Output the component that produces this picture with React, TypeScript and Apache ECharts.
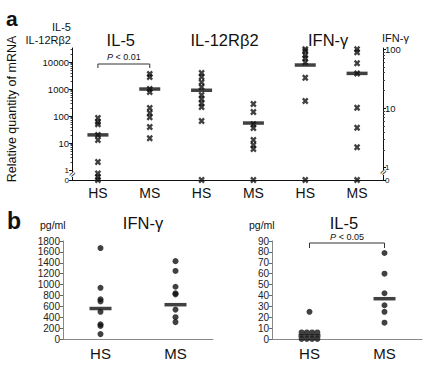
import React, { useEffect, useRef } from "react";
import * as echarts from "echarts";

// ---------- data: panel a (relative quantity of mRNA) ----------
const topCategories = ["HS", "MS", "HS", "MS", "HS", "MS"];
const topTitles = ["IL-5", "IL-12Rβ2", "IFN-γ"];
const il5HS = [85, 60, 50, 20, 13, 2, 0.75, 0.55, 0];
const il5MS = [3600, 2800, 1000, 770, 200, 130, 90, 39, 15];
const il12HS = [3900, 2800, 1800, 1200, 600, 430, 300, 215, 65, 0];
const il12MS = [280, 140, 50, 36, 13, 8.5, 6, 0];
const ifnHS = [100, 93, 79, 70, 60, 33, 13.3, 0];
const ifnMS = [100, 89, 58, 39, 10.2, 4.7, 2.2, 0];
const topMedians = [20, 1000, 900, 55, 54, 39];
const leftTickValues = [0, 1, 10, 100, 1000, 10000];
const rightTickValues = [0, 1, 10, 100];

// ---------- data: panel b (pg/ml) ----------
const bottomCategories = ["HS", "MS"];
const ifnProtHS = [1670, 940, 730, 690, 500, 270, 240, 90];
const ifnProtMS = [1430, 1250, 960, 840, 820, 540, 400, 310];
const ifnProtMedians = [560, 630];
const il5ProtHS = [25, 6, 6, 6, 6, 0, 0, 0, 0];
const il5ProtMS = [79, 60, 42, 31, 25, 15];
const il5ProtMedians = [3, 37];

const FONT = "Liberation Sans, Arial, Helvetica, sans-serif";

// broken log scales: zero is drawn below 1 after an axis break
const LEFT_ZERO = -0.37;
const LEFT_MAX = 4.52;
const RIGHT_ZERO = -0.21;
const RIGHT_MAX = 2.02;
const leftPos = (v: number) => (v <= 0 ? LEFT_ZERO : Math.max(LEFT_ZERO, Math.log10(v)));
const rightPos = (v: number) => (v <= 0 ? RIGHT_ZERO : Math.max(RIGHT_ZERO, Math.log10(v)));

const minorPositions = (max: number) => {
  const out: number[] = [];
  for (let d = 0; d < 5; d++) {
    for (let k = 2; k <= 9; k++) {
      const p = Math.log10(k * Math.pow(10, d));
      if (p <= max) out.push(p);
    }
  }
  return out;
};

const CROSS =
  "path://M0,2.5 L2.5,0 L5,2.5 L7.5,0 L10,2.5 L7.5,5 L10,7.5 L7.5,10 L5,7.5 L2.5,10 L0,7.5 L2.5,5 Z";

// horizontal spread for identical values (beeswarm style)
const spread = (values: number[], spacing: number) => {
  const counts: Record<string, number> = {};
  values.forEach((v) => (counts[v] = (counts[v] || 0) + 1));
  const seen: Record<string, number> = {};
  return values.map((v) => {
    const n = counts[v];
    const k = seen[v] || 0;
    seen[v] = k + 1;
    return (k - (n - 1) / 2) * spacing;
  });
};

const labelFor = (positions: number[], labels: number[]) => (v: number) => {
  const i = positions.findIndex((p) => Math.abs(p - v) < 1e-6);
  if (i < 0) return "";
  const t = String(labels[i]);
  return labels[i] <= 1 ? `{s|${t}}` : t;
};

export default function App() {
  const ref = useRef<HTMLDivElement>(null);

  useEffect(() => {
    const chart = echarts.init(ref.current!, null, { renderer: "svg" });

    const leftMajor = leftTickValues.map(leftPos);
    const rightMajor = rightTickValues.map(rightPos);

    const crossSeries = (values: number[], cat: number, yAxisIndex: number, pos: (v: number) => number) => ({
      type: "scatter",
      xAxisIndex: 0,
      yAxisIndex,
      symbol: CROSS,
      symbolSize: [6.5, 7],
      itemStyle: { color: "#111" },
      data: values.map((v) => [cat, pos(v)]),
      z: 3,
    });

    const dotSeries = (values: number[], cat: number, xAxisIndex: number, yAxisIndex: number, spacing: number) => {
      const off = spread(values, spacing);
      return {
        type: "scatter",
        xAxisIndex,
        yAxisIndex,
        symbol: "circle",
        symbolSize: 6,
        itemStyle: { color: "#111" },
        data: values.map((v, i) => [cat + off[i], v]),
        z: 3,
      };
    };

    const barSeries = (data: number[][], xAxisIndex: number, yAxisIndex: number, size: number[]) => ({
      type: "scatter",
      xAxisIndex,
      yAxisIndex,
      symbol: "rect",
      symbolSize: size,
      itemStyle: { color: "#111" },
      data,
      z: 4,
    });

    const tickLabelStyle = {
      fontFamily: FONT,
      fontSize: 9.5,
      color: "#111",
      rich: { s: { fontFamily: FONT, fontSize: 8, color: "#111" } },
    };

    const option: any = {
      animation: false,
      backgroundColor: "#fff",
      textStyle: { fontFamily: FONT },
      grid: [
        { left: 72, top: 48, width: 311, height: 132 },
        { left: 63, top: 241, width: 150, height: 98 },
        { left: 272, top: 241, width: 150, height: 98 },
      ],
      xAxis: [
        {
          gridIndex: 0,
          type: "category",
          data: topCategories,
          boundaryGap: true,
          axisLine: { onZero: false, lineStyle: { color: "#111", width: 1 } },
          axisTick: { show: false },
          axisLabel: { fontFamily: FONT, fontSize: 14, color: "#111", margin: 6 },
        },
        {
          gridIndex: 1,
          type: "category",
          data: bottomCategories,
          boundaryGap: true,
          axisLine: { onZero: false, lineStyle: { color: "#888", width: 1 } },
          axisTick: { show: false },
          axisLabel: { fontFamily: FONT, fontSize: 15, color: "#111", margin: 7 },
        },
        { gridIndex: 1, type: "value", min: -0.5, max: 1.5, show: false, axisLine: { onZero: false } },
        {
          gridIndex: 2,
          type: "category",
          data: bottomCategories,
          boundaryGap: true,
          axisLine: { onZero: false, lineStyle: { color: "#888", width: 1 } },
          axisTick: { show: false },
          axisLabel: { fontFamily: FONT, fontSize: 15, color: "#111", margin: 7 },
        },
        { gridIndex: 2, type: "value", min: -0.5, max: 1.5, show: false, axisLine: { onZero: false } },
      ],
      yAxis: [
        {
          gridIndex: 0,
          type: "value",
          position: "left",
          min: LEFT_ZERO,
          max: LEFT_MAX,
          splitLine: { show: false },
          axisLine: { show: true, onZero: false, lineStyle: { color: "#111", width: 1 } },
          axisTick: { show: true, length: 3, customValues: leftMajor, lineStyle: { color: "#111" } },
          axisLabel: { ...tickLabelStyle, margin: 3, customValues: leftMajor, formatter: labelFor(leftMajor, leftTickValues) },
        },
        {
          gridIndex: 0,
          type: "value",
          position: "left",
          min: LEFT_ZERO,
          max: LEFT_MAX,
          splitLine: { show: false },
          axisLine: { show: false, onZero: false },
          axisTick: { show: true, length: 1.5, customValues: minorPositions(LEFT_MAX), lineStyle: { color: "#444" } },
          axisLabel: { show: false },
        },
        {
          gridIndex: 0,
          type: "value",
          position: "right",
          min: RIGHT_ZERO,
          max: RIGHT_MAX,
          splitLine: { show: false },
          axisLine: { show: true, onZero: false, lineStyle: { color: "#111", width: 1 } },
          axisTick: { show: true, length: 3, customValues: rightMajor, lineStyle: { color: "#111" } },
          axisLabel: { ...tickLabelStyle, margin: 2, customValues: rightMajor, formatter: labelFor(rightMajor, rightTickValues) },
        },
        {
          gridIndex: 0,
          type: "value",
          position: "right",
          min: RIGHT_ZERO,
          max: RIGHT_MAX,
          splitLine: { show: false },
          axisLine: { show: false, onZero: false },
          axisTick: { show: true, length: 2, customValues: minorPositions(RIGHT_MAX), lineStyle: { color: "#444" } },
          axisLabel: { show: false },
        },
        {
          gridIndex: 1,
          type: "value",
          position: "left",
          min: 0,
          max: 1800,
          interval: 200,
          splitLine: { show: false },
          axisLine: { show: true, onZero: false, lineStyle: { color: "#888" } },
          axisTick: { show: true, length: 3, lineStyle: { color: "#666" } },
          axisLabel: { fontFamily: FONT, fontSize: 10, color: "#222", margin: 3, formatter: (v: number) => String(v) },
        },
        {
          gridIndex: 2,
          type: "value",
          position: "left",
          min: 0,
          max: 90,
          interval: 10,
          splitLine: { show: false },
          axisLine: { show: true, onZero: false, lineStyle: { color: "#888" } },
          axisTick: { show: true, length: 3, lineStyle: { color: "#666" } },
          axisLabel: { fontFamily: FONT, fontSize: 10, color: "#222", margin: 3, formatter: (v: number) => String(v) },
        },
      ],
      series: [
        crossSeries(il5HS, 0, 0, leftPos),
        crossSeries(il5MS, 1, 0, leftPos),
        crossSeries(il12HS, 2, 0, leftPos),
        crossSeries(il12MS, 3, 0, leftPos),
        crossSeries(ifnHS, 4, 2, rightPos),
        crossSeries(ifnMS, 5, 2, rightPos),
        barSeries(topMedians.slice(0, 4).map((m, i) => [i, leftPos(m)]), 0, 0, [21, 3.5]),
        barSeries(topMedians.slice(4).map((m, i) => [i + 4, rightPos(m)]), 0, 2, [21, 3.5]),
        dotSeries(ifnProtHS, 0, 2, 4, 0.07),
        dotSeries(ifnProtMS, 1, 2, 4, 0.07),
        barSeries(ifnProtMedians.map((m, i) => [i, m]), 2, 4, [22, 3.5]),
        dotSeries(il5ProtHS, 0, 4, 5, 0.07),
        dotSeries(il5ProtMS, 1, 4, 5, 0.07),
        barSeries(il5ProtMedians.map((m, i) => [i, m]), 4, 5, [22, 3.5]),
      ],
    };

    chart.setOption(option);

    const px = (xi: number, yi: number, pt: number[]) =>
      chart.convertToPixel({ xAxisIndex: xi, yAxisIndex: yi } as any, pt) as number[];

    const text = (x: number, y: number, t: string, style: any, extra: any = {}) => ({
      type: "text",
      x,
      y,
      ...extra,
      style: { text: t, fill: "#111", fontFamily: FONT, ...style },
    });

    const g: any[] = [];
    g.push(text(6, 18, "a", { fontSize: 21, fontWeight: "bold", verticalAlign: "middle" }));
    g.push(text(7, 221, "b", { fontSize: 23, fontWeight: "bold", verticalAlign: "middle" }));
    g.push(
      text(12, 109, "Relative quantity of mRNA", { fontSize: 12.5, align: "center", verticalAlign: "middle" }, { rotation: Math.PI / 2 })
    );
    g.push(text(71, 27, "IL-5", { fontSize: 11, align: "right", verticalAlign: "middle" }));
    g.push(text(71, 40, "IL-12Rβ2", { fontSize: 11, align: "right", verticalAlign: "middle" }));
    g.push(text(382, 38, "IFN-γ", { fontSize: 11, align: "left", verticalAlign: "middle" }));

    topTitles.forEach((t, k) => {
      const a = px(0, 0, [k * 2, 0]);
      const b = px(0, 0, [k * 2 + 1, 0]);
      g.push(text((a[0] + b[0]) / 2 - 3, 40, t, { fontSize: 16.5, align: "center", verticalAlign: "middle" }));
    });

    // axis breaks
    const lb = px(0, 0, [0, LEFT_ZERO]);
    const rb = px(0, 2, [5, RIGHT_ZERO]);
    g.push({ type: "rect", shape: { x: 70, y: lb[1] - 8, width: 5, height: 5 }, style: { fill: "#fff" }, z: 50 });
    g.push(text(72, lb[1] - 6, "≈", { fontSize: 11, align: "center", verticalAlign: "middle" }, { rotation: 0.9, z: 51 }));
    g.push({ type: "rect", shape: { x: 381, y: rb[1] - 10, width: 5, height: 5 }, style: { fill: "#fff" }, z: 50 });
    g.push(text(383, rb[1] - 8, "≈", { fontSize: 11, align: "center", verticalAlign: "middle" }, { rotation: 0.9, z: 51 }));

    // significance brackets
    const s0 = px(0, 0, [0, 0]);
    const s1 = px(0, 0, [1, 0]);
    g.push({
      type: "polyline",
      shape: { points: [[s0[0], 68], [s0[0], 64], [s1[0], 64], [s1[0], 68]] },
      style: { stroke: "#333", lineWidth: 1, fill: null },
    });
    g.push(
      text((s0[0] + s1[0]) / 2, 57, "{i|P} < 0.01", {
        fontSize: 9,
        align: "center",
        verticalAlign: "middle",
        rich: { i: { fontStyle: "italic", fontSize: 9, fontFamily: FONT, fill: "#111" } },
      })
    );

    const b0 = px(3, 5, [0, 0]);
    const b1 = px(3, 5, [1, 0]);
    g.push({
      type: "polyline",
      shape: { points: [[b0[0], 248], [b0[0], 243], [b1[0], 243], [b1[0], 248]] },
      style: { stroke: "#333", lineWidth: 1, fill: null },
    });
    g.push(
      text((b0[0] + b1[0]) / 2, 237, "{i|P} < 0.05", {
        fontSize: 9,
        align: "center",
        verticalAlign: "middle",
        rich: { i: { fontStyle: "italic", fontSize: 9, fontFamily: FONT, fill: "#111" } },
      })
    );

    // panel b titles
    g.push(text(143, 223, "IFN-γ", { fontSize: 16.5, align: "center", verticalAlign: "middle" }));
    g.push(text(344, 223, "IL-5", { fontSize: 16.5, align: "center", verticalAlign: "middle" }));
    g.push(text(40, 225, "pg/ml", { fontSize: 10.5, align: "left", verticalAlign: "middle" }));
    g.push(text(249, 225, "pg/ml", { fontSize: 10.5, align: "left", verticalAlign: "middle" }));

    chart.setOption({ graphic: g });

    return () => chart.dispose();
  }, []);

  return (
    <div
      ref={ref}
      style={{ position: "absolute", left: 0, top: 0, width: 435, height: 377, background: "#fff" }}
    />
  );
}
